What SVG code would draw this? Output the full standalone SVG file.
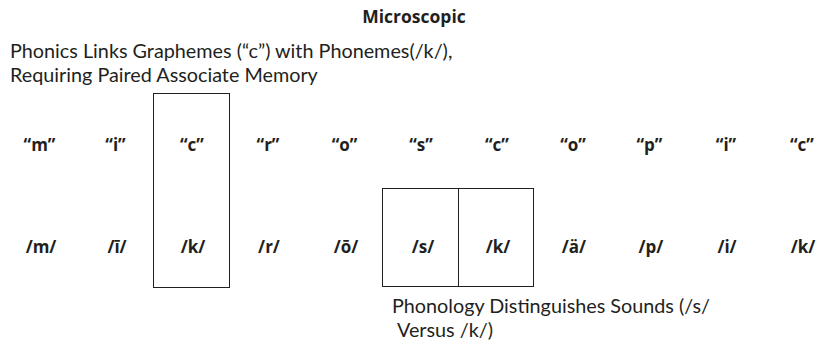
<svg xmlns="http://www.w3.org/2000/svg" width="819" height="346" viewBox="0 0 819 346">
<style>
text{font-family:"Open Sans",Lato,sans-serif;fill:#231f20}
.t{font-weight:bold;font-size:17.5px}
.l{font-family:Lato,"Open Sans",sans-serif;font-size:19.8px}
.g{font-weight:bold;font-size:17px;text-anchor:middle}
.box{fill:none;stroke:#231f20;stroke-width:1}
</style>
<rect width="819" height="346" fill="#fff"/>
<g id="title"><text class="t" x="414" y="23" text-anchor="middle">Microscopic</text></g>
<g id="phonics-label"><text class="l" x="10" y="58">Phonics Links Graphemes (“c”) with Phonemes(/k/),</text><text class="l" x="10" y="82">Requiring Paired Associate Memory</text></g>
<g id="phonics-box"><rect class="box" x="153.5" y="93.5" width="76" height="194"/></g>
<g id="phonology-box"><rect class="box" x="382.5" y="188.5" width="151" height="98"/><line class="box" x1="458.5" y1="188.5" x2="458.5" y2="286.5"/></g>
<g id="graphemes">
<text class="g" x="39.5" y="151">“m”</text>
<text class="g" x="115.5" y="151">“i”</text>
<text class="g" x="192" y="151">“c”</text>
<text class="g" x="268" y="151">“r”</text>
<text class="g" x="344.5" y="151">“o”</text>
<text class="g" x="421" y="151">“s”</text>
<text class="g" x="497" y="151">“c”</text>
<text class="g" x="573" y="151">“o”</text>
<text class="g" x="649.5" y="151">“p”</text>
<text class="g" x="726" y="151">“i”</text>
<text class="g" x="802" y="151">“c”</text>
</g>
<g id="phonemes">
<text class="g" x="41" y="253">/m/</text>
<text class="g" x="117" y="253">/ī/</text>
<text class="g" x="193" y="253">/k/</text>
<text class="g" x="269" y="253">/r/</text>
<text class="g" x="346" y="253">/ō/</text>
<text class="g" x="423" y="253">/s/</text>
<text class="g" x="498" y="253">/k/</text>
<text class="g" x="574" y="253">/ä/</text>
<text class="g" x="651" y="253">/p/</text>
<text class="g" x="727" y="253">/i/</text>
<text class="g" x="803" y="253">/k/</text>
</g>
<g id="phonology-label"><text class="l" x="392" y="313">Phonology Distinguishes Sounds (/s/</text><text class="l" x="397" y="337">Versus /k/)</text></g>
<g id="connectors"></g>
</svg>
